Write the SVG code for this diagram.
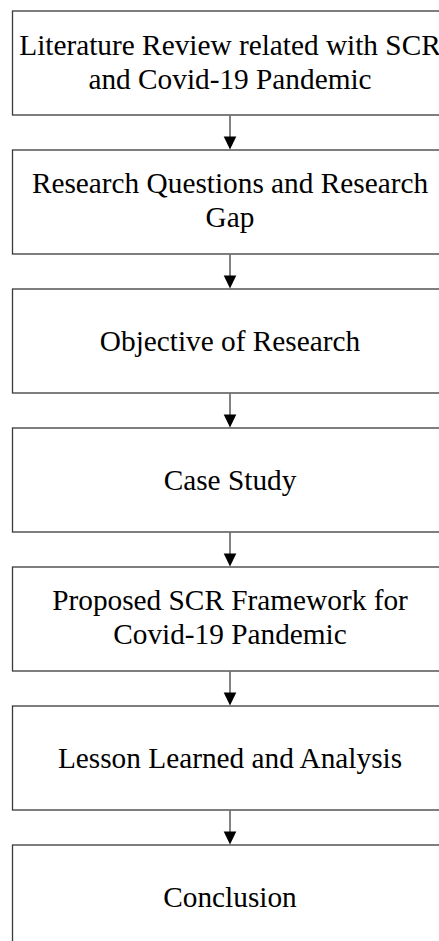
<svg xmlns="http://www.w3.org/2000/svg" width="439" height="941" viewBox="0 0 439 941">
<defs>
<style>
.box{fill:#fff;stroke:#3a3a3a;stroke-width:1.3}
.t{font-family:"Liberation Serif","Times New Roman",serif;font-size:29.3px;fill:#000;text-anchor:middle}
.c{stroke:#5a5a5a;stroke-width:1.5;fill:none}
.h{fill:#000}
</style>
</defs>
<rect x="0" y="0" width="439" height="941" fill="#fff"/>
<g id="n1"><rect class="box" x="12.5" y="11" width="436" height="104"/><text class="t" x="230" y="55">Literature Review related with SCR</text><text class="t" x="230" y="88.5">and Covid-19 Pandemic</text></g>
<g id="n2"><rect class="box" x="12.5" y="150" width="436" height="104"/><text class="t" x="230" y="193">Research Questions and Research</text><text class="t" x="230" y="226.5">Gap</text></g>
<g id="n3"><rect class="box" x="12.5" y="289" width="436" height="104"/><text class="t" x="230" y="351">Objective of Research</text></g>
<g id="n4"><rect class="box" x="12.5" y="428" width="436" height="104"/><text class="t" x="230" y="490">Case Study</text></g>
<g id="n5"><rect class="box" x="12.5" y="567" width="436" height="104"/><text class="t" x="230" y="610">Proposed SCR Framework for</text><text class="t" x="230" y="643.5">Covid-19 Pandemic</text></g>
<g id="n6"><rect class="box" x="12.5" y="706" width="436" height="104"/><text class="t" x="230" y="768">Lesson Learned and Analysis</text></g>
<g id="n7"><rect class="box" x="12.5" y="845" width="436" height="104"/><text class="t" x="230" y="907">Conclusion</text></g>
<g id="connectors">
<line class="c" x1="230" y1="115.5" x2="230" y2="137"/><polygon class="h" points="223.7,136.5 236.3,136.5 230,149.5"/>
<line class="c" x1="230" y1="254.5" x2="230" y2="276"/><polygon class="h" points="223.7,275.5 236.3,275.5 230,288.5"/>
<line class="c" x1="230" y1="393.5" x2="230" y2="415"/><polygon class="h" points="223.7,414.5 236.3,414.5 230,427.5"/>
<line class="c" x1="230" y1="532.5" x2="230" y2="554"/><polygon class="h" points="223.7,553.5 236.3,553.5 230,566.5"/>
<line class="c" x1="230" y1="671.5" x2="230" y2="693"/><polygon class="h" points="223.7,692.5 236.3,692.5 230,705.5"/>
<line class="c" x1="230" y1="810.5" x2="230" y2="832"/><polygon class="h" points="223.7,831.5 236.3,831.5 230,844.5"/>
</g>
</svg>
